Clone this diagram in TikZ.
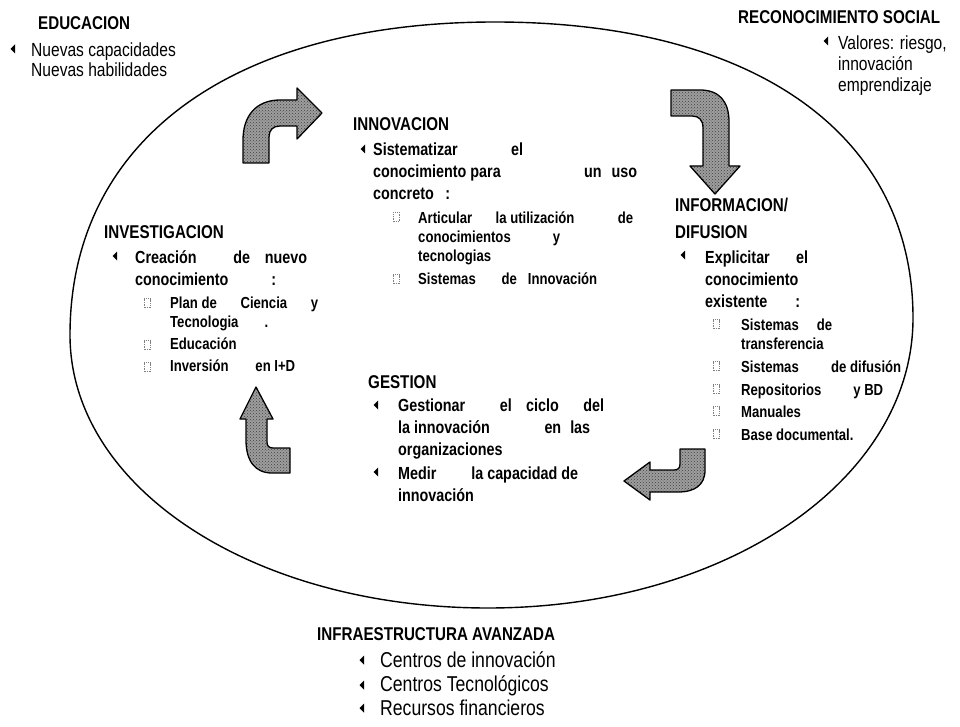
\documentclass[tikz,border=0pt]{standalone}
\usepackage{fontspec}
\setmainfont[FakeStretch=0.82]{Liberation Sans}
\usetikzlibrary{patterns}
% a line of fixed width whose words are spread by \hfill
\newcommand\spr[2]{\hbox to #1pt{#2}}
\newcommand\gapw[1]{\hspace{0pt plus #1fill}}
\begin{document}
\begin{tikzpicture}[x=1pt,y=-1pt,
  ttl/.style={anchor=base west, inner sep=0pt, font=\bfseries\fontsize{18.5}{20}\selectfont},
  bod/.style={anchor=base west, inner sep=0pt, font=\bfseries\fontsize{17.5}{20}\selectfont},
  sml/.style={anchor=base west, inner sep=0pt, font=\bfseries\fontsize{16}{18}\selectfont},
  crn/.style={anchor=base west, inner sep=0pt, font=\fontsize{19}{22}\selectfont},
  crb/.style={anchor=base west, inner sep=0pt, font=\fontsize{21.5}{24}\selectfont},
  blk/.style={draw=black, line width=1.3pt, line join=round,
    preaction={fill=black!38},
    preaction={pattern=crosshatch dots, pattern color=black!75}},
  bul/.pic={\fill (2,-4.5) -- (-2.5,0) -- (2,4.5) -- cycle;},
  sbul/.pic={\draw[black!50, densely dotted, line width=0.7pt] (-3,-4.5) rectangle (3,4.5);},
]
\useasboundingbox (0,0) rectangle (960,727);

% the cycle: an oval, a little squarer at the top than at the bottom
\coordinate (ovT) at (495,22);
\coordinate (ovR) at (913,318);
\coordinate (ovB) at (488,608);
\coordinate (ovL) at (70,335);
\draw[line width=1.4pt] (ovL) .. controls (70,141) and (231,22) .. (ovT)
  .. controls (754,22) and (913,134) .. (ovR)
  .. controls (913,480) and (726,608) .. (ovB)
  .. controls (254,608) and (70,488) .. (ovL) -- cycle;

% curved block arrows between the four stages
\path[blk] (243,163) -- (243,140) .. controls (243,116) and (256,100) .. (280,100)
  -- (297,100) -- (297,88) -- (322,113) -- (297,139) -- (297,126) -- (280,126)
  .. controls (273,126) and (269,130) .. (269,137) -- (269,163) -- cycle;
\path[blk] (671,90) -- (700,90) .. controls (719,90) and (729,101) .. (729,122)
  -- (729,166) -- (740,166) -- (715,194) -- (690,166) -- (703,166) -- (703,128)
  .. controls (703,120) and (699,116) .. (692,116) -- (671,116) -- cycle;
\path[blk] (256,387) -- (273,419) -- (267,419) -- (267,442)
  .. controls (267,446) and (269,448) .. (273,448) -- (290,448) -- (290,473) -- (272,473)
  .. controls (255,473) and (246,461) .. (246,440) -- (246,419) -- (240,419) -- cycle;
\path[blk] (680,449) -- (705,449) -- (705,470) .. controls (705,485) and (695,492) .. (678,492)
  -- (650,492) -- (650,500) -- (624,481) -- (650,462) -- (650,470) -- (674,470)
  .. controls (678,470) and (680,468) .. (680,464) -- cycle;

% EDUCACION
\node[ttl] (edu) at (38,30) {EDUCACION};
\pic at (13,49) {bul};
\node[crn] (edu1) at (31,57) {Nuevas capacidades};
\node[crn] (edu2) at (31,77) {Nuevas habilidades};

% RECONOCIMIENTO SOCIAL
\node[ttl] (rec) at (738,24) {RECONOCIMIENTO SOCIAL};
\pic at (826,41) {bul};
\node[crn] (rec1) at (838,50) {Valores: riesgo,};
\node[crn] (rec2) at (838,71) {innovación};
\node[crn] (rec3) at (838,92) {emprendizaje};

% INNOVACION
\node[ttl] (inn) at (353,131) {INNOVACION};
\pic at (363,149) {bul};
\node[bod] (inn1) at (373,156) {\spr{150}{Sistematizar\hfill el}};
\node[bod] (inn2) at (373,178) {\spr{264}{conocimiento para\hfill un\hspace{10pt}uso}};
\node[bod] (inn3) at (373,200) {\spr{77}{concreto\hfill :}};
\pic at (396,217) {sbul};
\node[sml] (inn4) at (418,224) {\spr{215}{Articular\gapw1 la utilización\gapw2 de}};
\node[sml] (inn5) at (418,243) {\spr{142}{conocimientos\hfill y}};
\node[sml] (inn6) at (418,261) {tecnologias};
\pic at (396,279) {sbul};
\node[sml] (inn7) at (418,284) {\spr{179}{Sistemas\gapw3 de\gapw1 Innovación}};

% INVESTIGACION
\node[ttl] (inv) at (104,238) {INVESTIGACION};
\pic at (115,256) {bul};
\node[bod] (inv1) at (135,263) {\spr{172}{Creación\gapw3 de\gapw1 nuevo}};
\node[bod] (inv2) at (135,285) {\spr{141}{conocimiento\hfill :}};
\pic at (147,303) {sbul};
\node[sml] (inv3) at (170,308) {\spr{148}{Plan de\hfill Ciencia\hfill y}};
\node[sml] (inv4) at (170,327) {\spr{98}{Tecnologia\hfill .}};
\pic at (147,345) {sbul};
\node[sml] (inv5) at (170,349) {Educación};
\pic at (147,367) {sbul};
\node[sml] (inv6) at (170,371) {\spr{125}{Inversión\hfill en I+D}};

% GESTION
\node[ttl] (ges) at (368,388) {GESTION};
\pic at (376,405) {bul};
\node[bod] (ges1) at (398,411) {\spr{206}{Gestionar\gapw3 el\gapw1 ciclo\gapw2 del}};
\node[bod] (ges2) at (398,433) {\spr{192}{la innovación\hfill en\hspace{9pt}las}};
\node[bod] (ges3) at (398,455) {organizaciones};
\pic at (376,472) {bul};
\node[bod] (ges4) at (398,479) {\spr{180}{Medir\hfill la capacidad de}};
\node[bod] (ges5) at (398,501) {innovación};

% INFORMACION / DIFUSION
\node[ttl] (inf) at (675,212) {INFORMACION/};
\node[ttl] (dif) at (675,238) {DIFUSION};
\pic at (683,255) {bul};
\node[bod] (inf1) at (705,263) {\spr{103}{Explicitar\hfill el}};
\node[bod] (inf2) at (705,285) {conocimiento};
\node[bod] (inf3) at (705,307) {\spr{95}{existente\hfill :}};
\pic at (716,324) {sbul};
\node[sml] (inf4) at (741,330) {\spr{91}{Sistemas\hfill de}};
\node[sml] (inf5) at (741,349) {transferencia};
\pic at (716,366) {sbul};
\node[sml] (inf6) at (741,372) {\spr{160}{Sistemas\hfill de difusión}};
\pic at (716,389) {sbul};
\node[sml] (inf7) at (741,395) {\spr{142}{Repositorios\hfill y BD}};
\pic at (716,411) {sbul};
\node[sml] (inf8) at (741,417) {Manuales};
\pic at (716,434) {sbul};
\node[sml] (inf9) at (741,440) {Base documental.};

% INFRAESTRUCTURA AVANZADA
\node[ttl] (ifr) at (317,640) {INFRAESTRUCTURA AVANZADA};
\pic at (362,660) {bul};
\node[crb] (ifr1) at (380,667) {Centros de innovación};
\pic at (362,685) {bul};
\node[crb] (ifr2) at (380,691) {Centros Tecnológicos};
\pic at (362,708) {bul};
\node[crb] (ifr3) at (380,715) {Recursos financieros};
\end{tikzpicture}
\end{document}
